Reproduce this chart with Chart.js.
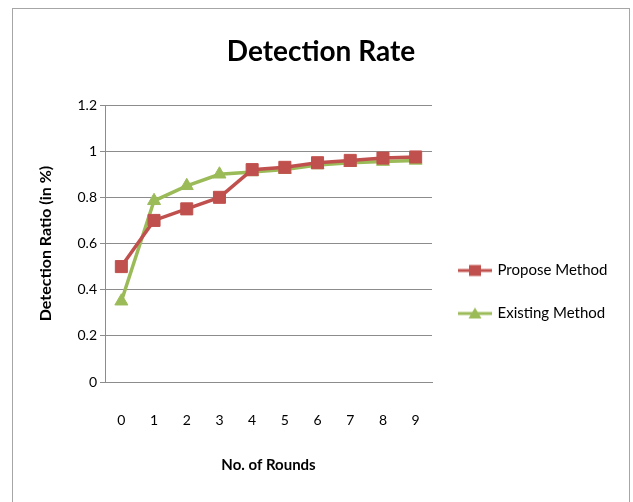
<!DOCTYPE html>
<html>
<head>
<meta charset="utf-8">
<title>Detection Rate</title>
<script src="https://cdn.jsdelivr.net/npm/chart.js@4.4.1/dist/chart.umd.min.js"></script>
<style>
  html, body { margin: 0; padding: 0; background: #ffffff; }
  #wrap { position: relative; width: 633px; height: 502px; overflow: hidden; }
  #frame { position: absolute; left: 12px; top: 8px; width: 618px; height: 520px; border: 1px solid #a6a6a6; box-sizing: border-box; }
  #chart { position: absolute; left: 0; top: 0; }
</style>
</head>
<body>
<div id="wrap">
  <div id="frame"></div>
  <canvas id="chart" width="633" height="502"></canvas>
</div>
<script>
// Rounds on the x axis
const rounds = ['0', '1', '2', '3', '4', '5', '6', '7', '8', '9'];
// Detection ratio per round
const proposeMethod = [0.50, 0.70, 0.75, 0.80, 0.92, 0.93, 0.95, 0.96, 0.97, 0.975];
const existingMethod = [0.35, 0.785, 0.85, 0.90, 0.91, 0.92, 0.94, 0.95, 0.955, 0.96];
const seriesNames = ['Propose Method', 'Existing Method'];
const yTicks = { min: 0, max: 1.2, step: 0.2 };

const RED = '#c0504d';
const GREEN = '#9bbb59';
const FONT = "Lato, 'Liberation Sans', Arial, sans-serif";

// Legend swatches: a short line with the series marker in the middle
function swatch(color, shape) {
  const c = document.createElement('canvas');
  c.width = 34; c.height = 16;
  const g = c.getContext('2d');
  g.strokeStyle = color; g.lineWidth = 3;
  g.beginPath(); g.moveTo(0, 8); g.lineTo(34, 8); g.stroke();
  g.fillStyle = color;
  g.beginPath();
  if (shape === 'rect') {
    g.rect(11, 2.5, 12, 11);
  } else {
    g.moveTo(17, 2); g.lineTo(23.5, 13); g.lineTo(10.5, 13); g.closePath();
  }
  g.fill();
  return c;
}
const swatches = [swatch(RED, 'rect'), swatch(GREEN, 'triangle')];

const RIGHT_PAD = 3;
const LEGEND_WIDTH = 198;

// Give the right-hand legend a fixed column width
const legendWidthPlugin = {
  id: 'legendWidth',
  afterInit(chart) {
    const lg = chart.legend;
    if (!lg) return;
    const fit = lg.fit.bind(lg);
    lg.fit = function () { fit(); this.width = LEGEND_WIDTH; };
  }
};

new Chart(document.getElementById('chart'), {
  type: 'line',
  plugins: [legendWidthPlugin],
  data: {
    labels: rounds,
    datasets: [
      {
        label: seriesNames[0],
        data: proposeMethod,
        borderColor: RED,
        backgroundColor: RED,
        borderWidth: 3.5,
        pointStyle: 'rect',
        pointRadius: 8.5,
        pointBorderWidth: 1,
        tension: 0
      },
      {
        label: seriesNames[1],
        data: existingMethod,
        borderColor: GREEN,
        backgroundColor: GREEN,
        borderWidth: 3.5,
        pointStyle: 'triangle',
        pointRadius: 7.5,
        pointBorderWidth: 1,
        tension: 0
      }
    ]
  },
  options: {
    responsive: false,
    animation: false,
    layout: { padding: { left: 12, top: 8, right: RIGHT_PAD, bottom: 0 } },
    plugins: {
      title: {
        display: true,
        text: 'Detection Rate',
        color: '#000000',
        font: { family: FONT, size: 28, weight: 'bold' },
        padding: { top: 27.2, bottom: 36.2 }
      },
      legend: {
        display: true,
        position: 'right',
        align: 'center',
        title: { display: true, text: ' ', font: { size: 10 }, padding: { top: 62, bottom: 0 } },
        labels: {
          usePointStyle: true,
          pointStyleWidth: 30,
          padding: 28,
          color: '#000000',
          font: { family: FONT, size: 15 },
          generateLabels(chart) {
            const items = Chart.defaults.plugins.legend.labels.generateLabels(chart);
            items.forEach((it, i) => { it.pointStyle = swatches[i]; it.fontColor = '#000000'; });
            return items;
          }
        }
      },
      tooltip: { enabled: false }
    },
    scales: {
      x: {
        offset: true,
        grid: { display: false, drawTicks: false },
        border: { display: true, color: '#8c8c8c', width: 1 },
        ticks: { color: '#000000', font: { family: FONT, size: 14 }, padding: 30, maxRotation: 0 },
        title: {
          display: true,
          text: 'No. of Rounds',
          color: '#000000',
          font: { family: FONT, size: 15, weight: 'bold' },
          padding: { top: 0, bottom: 28 }
        },
        afterFit(scale) { scale.height = 120; }
      },
      y: {
        min: yTicks.min,
        max: yTicks.max,
        ticks: {
          stepSize: yTicks.step,
          color: '#000000',
          font: { family: FONT, size: 14 },
          padding: 3,
          callback: (v) => String(Number(v.toFixed(2)))
        },
        grid: { color: '#8c8c8c', lineWidth: 1, drawTicks: true, tickLength: 5 },
        border: { display: true, color: '#8c8c8c', width: 1 },
        title: {
          display: true,
          text: 'Detection Ratio (in %)',
          color: '#000000',
          font: { family: FONT, size: 16, weight: 'bold' },
          padding: { top: 24, bottom: 0 }
        },
        afterFit(scale) { scale.width = 93; }
      }
    }
  }
});
</script>
</body>
</html>
